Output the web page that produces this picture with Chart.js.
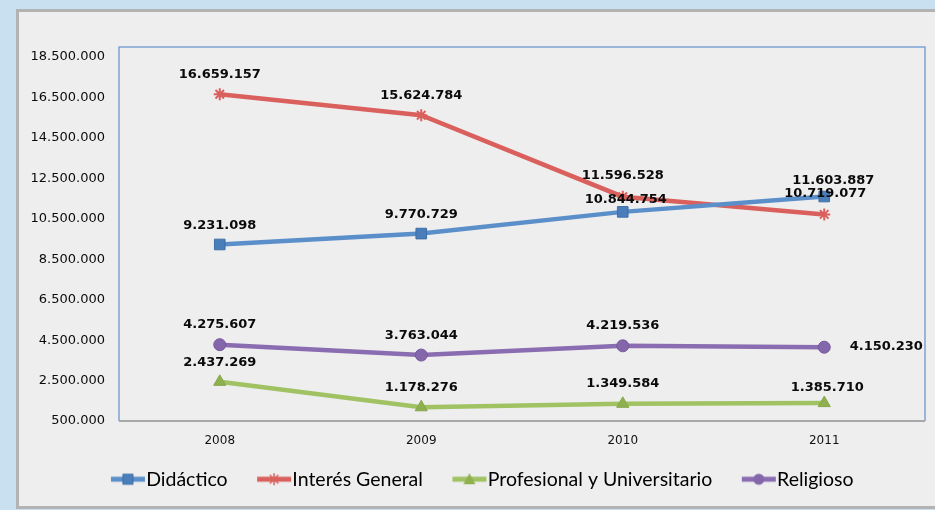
<!DOCTYPE html>
<html>
<head>
<meta charset="utf-8">
<script src="https://cdn.jsdelivr.net/npm/chart.js@4"></script>
<style>
  html, body { margin: 0; padding: 0; }
  body { width: 935px; height: 510px; background: #c9e0f1; position: relative; overflow: hidden; }
  #panel { position: absolute; left: 16px; top: 9px; width: 940px; height: 494px; border: 3px solid #b3b3b3; background: #eeeeee; }
  #wrap { position: absolute; left: 0; top: 0; width: 935px; height: 510px; }
</style>
</head>
<body>
<div id="panel"></div>
<div id="wrap"><canvas id="c" width="935" height="510"></canvas></div>
<script>
// ---- data ----
const categories = ['2008', '2009', '2010', '2011'];
const seriesNames = ['Didáctico', 'Interés General', 'Profesional y Universitario', 'Religioso'];
const didactico = [9231098, 9770729, 10844754, 11603887];
const interesGeneral = [16659157, 15624784, 11596528, 10719077];
const profesional = [2437269, 1178276, 1349584, 1385710];
const religioso = [4275607, 3763044, 4219536, 4150230];
const yTicks = [500000, 2500000, 4500000, 6500000, 8500000, 10500000, 12500000, 14500000, 16500000, 18500000];

// ---- label placement (offsets from each point, px) ----
const labelOffsets = [
  [[0,-19],[0,-19],[3,-12],[9,-16]],
  [[0,-20],[0,-20],[0,-21],[1,-21]],
  [[0,-19],[0,-20],[0,-20],[3,-15]],
  [[0,-20],[0,-19],[0,-20],[62,-1]]
];

const styles = [
  { line: '#5b8fca', fill: '#4a7ebb', border: '#3d6ea6', point: 'rect', radius: 7.5 },
  { line: '#d9605c', fill: '#d9605c', border: '#d9605c', point: 'star', radius: 6 },
  { line: '#a0c262', fill: '#8fb04f', border: '#86a64a', point: 'triangle', radius: 7 },
  { line: '#8a6cb0', fill: '#8466ab', border: '#76589c', point: 'circle', radius: 6 }
];

function fmt(v) {
  return String(Math.round(v)).replace(/\B(?=(\d{3})+(?!\d))/g, '.');
}

function legendImage(st) {
  const c = document.createElement('canvas');
  const W = 52, H = 16;
  c.width = W; c.height = H;
  const g = c.getContext('2d');
  const x0 = 14, x1 = 48, cy = H / 2, cx = (x0 + x1) / 2;
  g.fillStyle = st.line;
  g.fillRect(x0, cy - 2.5, x1 - x0, 5);
  g.fillStyle = st.fill; g.strokeStyle = st.border; g.lineWidth = 1;
  if (st.point === 'rect') {
    g.fillRect(cx - 5, cy - 5, 10, 10); g.strokeRect(cx - 5, cy - 5, 10, 10);
  } else if (st.point === 'star') {
    g.strokeStyle = st.line; g.lineWidth = 1.5;
    g.beginPath();
    for (let k = 0; k < 4; k++) {
      const a = k * Math.PI / 4;
      g.moveTo(cx - 6 * Math.cos(a), cy - 6 * Math.sin(a));
      g.lineTo(cx + 6 * Math.cos(a), cy + 6 * Math.sin(a));
    }
    g.stroke();
  } else if (st.point === 'triangle') {
    g.beginPath(); g.moveTo(cx, cy - 6); g.lineTo(cx + 6, cy + 5); g.lineTo(cx - 6, cy + 5); g.closePath(); g.fill();
  } else {
    g.beginPath(); g.arc(cx, cy, 5.5, 0, Math.PI * 2); g.fill();
  }
  return c;
}

const seriesValues = [didactico, interesGeneral, profesional, religioso];
const datasets = seriesValues.map((vals, i) => ({
  label: seriesNames[i],
  data: vals,
  borderColor: styles[i].line,
  backgroundColor: styles[i].fill,
  pointBackgroundColor: styles[i].fill,
  pointBorderColor: styles[i].border,
  pointBorderWidth: styles[i].point === 'star' ? 2 : 1,
  pointStyle: styles[i].point,
  pointRadius: styles[i].radius,
  pointHoverRadius: styles[i].radius,
  borderWidth: 4.5,
  tension: 0,
  fill: false
}));

const legendImages = styles.map(legendImage);

const plotFrame = {
  id: 'plotFrame',
  afterLayout(chart) {
    const lg = chart.legend;
    if (lg) { lg.top -= 11; lg.bottom -= 11; lg.left += 20; }
  },
  beforeDatasetsDraw(chart) {
    const { ctx, chartArea: a } = chart;
    ctx.save();
    ctx.strokeStyle = '#7ea3d3'; ctx.lineWidth = 1.5;
    ctx.beginPath();
    ctx.moveTo(a.left, a.bottom); ctx.lineTo(a.left, a.top); ctx.lineTo(a.right, a.top); ctx.lineTo(a.right, a.bottom);
    ctx.stroke();
    ctx.strokeStyle = '#a8a8a8'; ctx.lineWidth = 2;
    ctx.beginPath(); ctx.moveTo(a.left, a.bottom); ctx.lineTo(a.right, a.bottom); ctx.stroke();
    ctx.restore();
  }
};

const valueLabels = {
  id: 'valueLabels',
  afterDatasetsDraw(chart) {
    const { ctx } = chart;
    ctx.save();
    ctx.font = 'bold 13px "DejaVu Sans"';
    ctx.fillStyle = '#0a0a0a';
    ctx.textAlign = 'center';
    ctx.textBaseline = 'middle';
    chart.data.datasets.forEach((ds, di) => {
      const meta = chart.getDatasetMeta(di);
      meta.data.forEach((pt, i) => {
        const off = labelOffsets[di][i];
        ctx.fillText(fmt(ds.data[i]), pt.x + off[0], pt.y + off[1]);
      });
    });
    ctx.restore();
  }
};

new Chart(document.getElementById('c'), {
  type: 'line',
  data: { labels: categories, datasets },
  options: {
    responsive: false,
    animation: false,
    layout: { padding: { left: 18, right: 10, top: 47, bottom: 0 } },
    plugins: {
      tooltip: { enabled: false },
      legend: {
        position: 'bottom',
        labels: {
          usePointStyle: true,
          pointStyleWidth: 27,
          padding: 28,
          color: '#111111',
          font: { family: 'Lato', size: 19.5 },
          generateLabels(chart) {
            return chart.data.datasets.map((ds, i) => ({
              text: ds.label,
              pointStyle: legendImages[i],
              fillStyle: ds.borderColor,
              strokeStyle: ds.borderColor,
              lineWidth: 0,
              hidden: false,
              datasetIndex: i
            }));
          }
        }
      }
    },
    scales: {
      x: {
        offset: true,
        grid: { display: false },
        border: { display: false },
        ticks: { color: '#111111', font: { family: 'DejaVu Sans', size: 12 }, padding: 5 },
        afterFit(s) { s.height = 31.5; }
      },
      y: {
        min: 500000,
        max: 19000000,
        grid: { display: false },
        border: { display: false },
        afterBuildTicks(s) { s.ticks = yTicks.map(v => ({ value: v })); },
        afterFit(s) { s.width = 101; },
        ticks: {
          color: '#0a0a0a',
          font: { family: 'DejaVu Sans', size: 13 },
          padding: 6,
          callback: v => fmt(v)
        }
      }
    }
  },
  plugins: [plotFrame, valueLabels]
});
</script>
</body>
</html>
